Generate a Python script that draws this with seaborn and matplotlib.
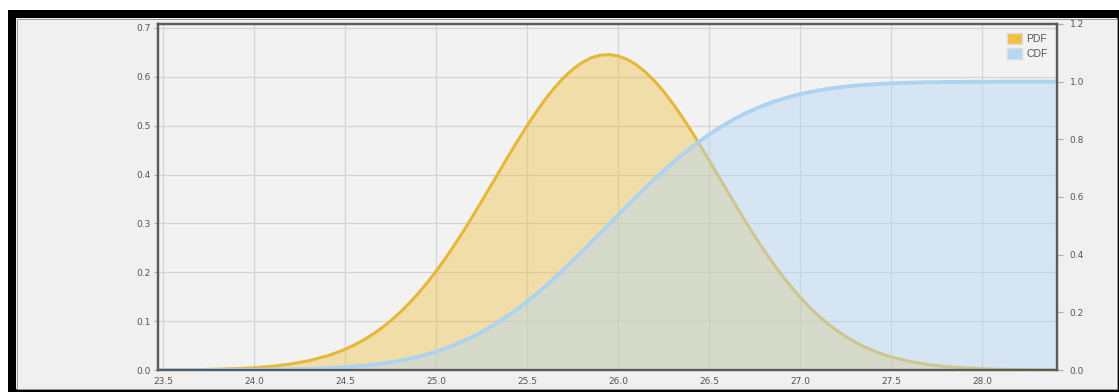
import matplotlib
matplotlib.use("Agg")
import matplotlib.pyplot as plt
import matplotlib.ticker as mtick
from matplotlib.patches import Rectangle, Patch
import pandas as pd
import seaborn as sns

# values
x_values = [23.47, 23.5, 23.6, 23.7, 23.8, 23.9, 24.0, 24.1, 24.2, 24.3, 24.4,
            24.45, 24.5, 24.55, 24.6, 24.65, 24.7, 24.75, 24.8, 24.85, 24.9, 24.95,
            25.0, 25.05, 25.1, 25.15, 25.2, 25.25, 25.3, 25.35, 25.4, 25.45,
            25.5, 25.55, 25.6, 25.65, 25.7, 25.75, 25.8, 25.85, 25.9, 25.95,
            26.0, 26.05, 26.1, 26.15, 26.2, 26.25, 26.3, 26.35, 26.4, 26.45,
            26.5, 26.55, 26.6, 26.65, 26.7, 26.75, 26.8, 26.85, 26.9, 26.95,
            27.0, 27.05, 27.1, 27.15, 27.2, 27.25, 27.3, 27.35, 27.4, 27.45,
            27.5, 27.6, 27.7, 27.8, 27.9, 28.0, 28.1, 28.2, 28.3, 28.4, 28.41]
pdf_values = [0.0002, 0.0003, 0.0005, 0.0009, 0.0016, 0.0028, 0.0047, 0.0077, 0.0123, 0.0191, 0.0289,
              0.0353, 0.0428, 0.0514, 0.0615, 0.0731, 0.0862, 0.1011, 0.1178, 0.1363, 0.1567, 0.1789,
              0.2030, 0.2288, 0.2563, 0.2851, 0.3152, 0.3461, 0.3776, 0.4092, 0.4407, 0.4714,
              0.5010, 0.5290, 0.5549, 0.5782, 0.5986, 0.6157, 0.6292, 0.6387, 0.6441, 0.6454,
              0.6425, 0.6354, 0.6242, 0.6093, 0.5908, 0.5692, 0.5448, 0.5180, 0.4894, 0.4592,
              0.4282, 0.3966, 0.3650, 0.3336, 0.3030, 0.2734, 0.2451, 0.2183, 0.1931, 0.1698,
              0.1483, 0.1286, 0.1109, 0.0949, 0.0808, 0.0683, 0.0573, 0.0478, 0.0396, 0.0326,
              0.0267, 0.0175, 0.0112, 0.0070, 0.0042, 0.0025, 0.0014, 0.0008, 0.0004, 0.0002, 0.0002]
cdf_values = [0.0000, 0.0000, 0.0001, 0.0001, 0.0003, 0.0005, 0.0009, 0.0015, 0.0024, 0.0040, 0.0064,
              0.0080, 0.0099, 0.0123, 0.0151, 0.0184, 0.0224, 0.0271, 0.0325, 0.0389, 0.0462, 0.0546,
              0.0641, 0.0749, 0.0871, 0.1006, 0.1156, 0.1321, 0.1501, 0.1699, 0.1911, 0.2139,
              0.2382, 0.2640, 0.2911, 0.3194, 0.3490, 0.3793, 0.4104, 0.4421, 0.4742, 0.5065,
              0.5387, 0.5706, 0.6021, 0.6330, 0.6630, 0.6920, 0.7199, 0.7465, 0.7717, 0.7954,
              0.8176, 0.8382, 0.8572, 0.8747, 0.8906, 0.9050, 0.9180, 0.9296, 0.9398, 0.9489,
              0.9568, 0.9638, 0.9697, 0.9749, 0.9793, 0.9830, 0.9861, 0.9887, 0.9909, 0.9927,
              0.9942, 0.9964, 0.9978, 0.9987, 0.9992, 0.9996, 0.9998, 0.9999, 0.9999, 1.0000, 1.0000]
x_ticks = [23.5, 24.0, 24.5, 25.0, 25.5, 26.0, 26.5, 27.0, 27.5, 28.0]
left_ticks = [0.0, 0.1, 0.2, 0.3, 0.4, 0.5, 0.6, 0.7]
right_ticks = [0.0, 0.2, 0.4, 0.6, 0.8, 1.0, 1.2]

df = pd.DataFrame({"x": x_values, "PDF": pdf_values, "CDF": cdf_values})

sns.set_style("white")
plt.rcParams["font.family"] = ["DejaVu Sans"]

W, H = 1119, 392
fig = plt.figure(figsize=(W / 100, H / 100), dpi=100, facecolor="white")
# black outer border (8 px) around a light grey panel, cut by the image edge
fig.patches.append(Rectangle((12 / W, -1 / H), (1121 - 12) / W, (393 - 14) / H,
                             transform=fig.transFigure, facecolor="#f0f0f0",
                             edgecolor="black", linewidth=5.76, zorder=-10))
# thin grey line just inside the black border
fig.patches.append(Rectangle((16.5 / W, 3.5 / H), (1116.5 - 16.5) / W, (373.5 - 3.5) / H,
                             transform=fig.transFigure, facecolor="none",
                             edgecolor="#9a9a9a", linewidth=0.7, zorder=-9))

ax1 = fig.add_axes([158 / W, 1 - 370 / H, (1057 - 158) / W, (370 - 24) / H])
ax1.set_facecolor("#f2f2f2")
ax2 = ax1.twinx()

gold = "#f0c040"
blue = "#b4d7f6"

ax1.fill_between(df["x"], df["PDF"], color=gold, alpha=0.42, linewidth=0)
sns.lineplot(data=df, x="x", y="PDF", ax=ax1, color="#e6b83a", linewidth=2.2)
ax2.fill_between(df["x"], df["CDF"], color=blue, alpha=0.45, linewidth=0)
sns.lineplot(data=df, x="x", y="CDF", ax=ax2, color="#aed3f0", linewidth=2.8)

ax1.set_xlim(23.47, 28.41)
ax1.set_ylim(0, 0.708)
ax2.set_ylim(0, 1.2)
ax1.set_xticks(x_ticks)
ax1.set_yticks(left_ticks)
ax2.set_yticks(right_ticks)
ax1.xaxis.set_major_formatter(mtick.FormatStrFormatter("%.1f"))
ax1.yaxis.set_major_formatter(mtick.FormatStrFormatter("%.1f"))
ax2.yaxis.set_major_formatter(mtick.FormatStrFormatter("%.1f"))

ax1.grid(True, color="#d4d4d4", linewidth=0.9)
ax1.set_axisbelow(True)
ax2.grid(False)
for a in (ax1, ax2):
    a.set_xlabel("")
    a.set_ylabel("")
    for s in a.spines.values():
        s.set_color("#5a5a5a")
        s.set_linewidth(1.6)
ax1.tick_params(axis="both", labelsize=6.5, labelcolor="#555555", color="#aaaaaa",
                length=3, width=0.8, pad=2)
ax2.tick_params(axis="y", labelsize=6.5, labelcolor="#555555", color="#aaaaaa",
                length=4, width=0.8, pad=5)

handles = [Patch(facecolor=gold, edgecolor="#dddddd", label="PDF"),
           Patch(facecolor=blue, edgecolor="#dddddd", label="CDF")]
ax2.legend(handles=handles, loc="upper right", frameon=False,
           prop={"family": "Liberation Sans", "size": 7.5},
           labelcolor="#555555", handlelength=1.4, handleheight=1.2,
           handletextpad=0.45, borderaxespad=0.5, labelspacing=0.35)

fig.savefig("out.png", dpi=100, facecolor="white")
